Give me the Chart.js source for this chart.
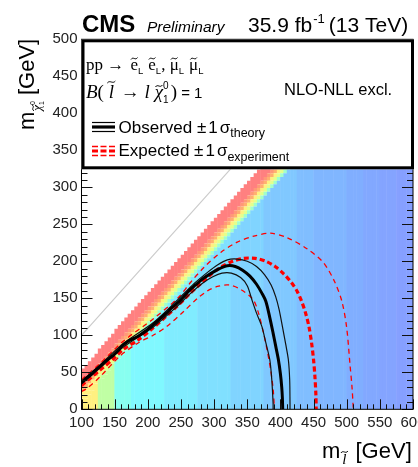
<!DOCTYPE html>
<html>
<head>
<meta charset="utf-8">
<title>CMS Preliminary - slepton exclusion</title>
<script src="https://cdn.jsdelivr.net/npm/chart.js@4/dist/chart.umd.min.js"></script>
<style>
html,body{margin:0;padding:0;background:#ffffff;overflow:hidden;}
#wrap{position:relative;width:418px;height:467px;}
canvas{display:block;}
</style>
</head>
<body>
<div id="wrap"><canvas id="chart" width="418" height="467"></canvas></div>
<script>
// ---------------- data ----------------
const xTickValues = [100,150,200,250,300,350,400,450,500,550,600];   // m(slepton) [GeV]
const yTickValues = [0,50,100,150,200,250,300,350,400,450,500];      // m(LSP) [GeV]

// colour map of the upper limit: 25 GeV bands in m(slepton), colour level of each band
const bandStart = [100,125,150,175,200,225,250,275,300,325,350,375,400,425,450,475,500,525,550,575];
const bandLevel = [4,6,8,9,9,10,10,11,11,12,12,13,13,14,15,15,16,17,18,19];
// gap (GeV) between the diagonal m(LSP)=m(slepton) and the top of the scanned region, per band
const bandEdgeGap = [50,48,46,46,46,46,46,46,46,46,46,46,46,46,46,46,46,46,46,46];
// strip just below the scan edge, from the edge inwards: thickness (GeV) and colour level
const edgeStripThickness = [20,5,5,5,5,5];
const edgeStripLevel     = [0,1,2,4,5,7];
const cellSize = 5; // GeV, map binning

const paletteColors = [
  '#ff8080','#ff9878','#ffb070','#ffd078','#fff080','#e4ff8c','#c0ffa4','#a0ffcc',
  '#88fff0','#80f8ff','#80ecff','#80e0ff','#80d4ff','#80c8ff','#80beff','#80b6ff',
  '#80aeff','#82a8ff','#84a4ff','#86a0ff'
];

// exclusion contours [m(slepton), m(LSP)]
const observed = [[100,36],[107,42],[113,46],[120,52],[128,58],[138,66],[148,73],[156,80],[163,87],[172,93],[186,99],[197,106],[208,114],[218,122],[228,130],[236,137],[244,143],[252,150],[262,160],[272,168],[284,177],[296,184],[308,190],[320,194],[332,193],[343,188],[354,180],[364,169],[372,157],[378,146],[384,124],[389,103],[393,85],[397,67],[400,48],[402,30],[403,15],[403.5,0]];
const observedUp = [[100,38],[128,60],[163,89],[208,117],[244,147],[270,170],[290,185],[305,195],[320,202],[335,203],[350,200],[364,193],[376,182],[386,168],[393,152],[398,135],[403,112],[408,88],[412,67],[414,40],[414.5,8],[414.5,0]];
const observedDown = [[100,34],[128,56],[163,84],[208,111],[244,139],[265,157],[282,170],[298,179],[312,184],[326,184],[340,178],[350,167],[357,148],[364,130],[372,112],[378,90],[384,67],[387,40],[389,8],[389,0]];
const expected = [[100,32],[113,42],[128,53],[148,68],[163,81],[186,94],[208,110],[228,126],[244,139],[262,155],[280,170],[296,183],[312,193],[328,200],[345,204],[362,204],[378,200],[392,193],[405,183],[416,172],[425,160],[432,146],[438,130],[443,112],[447,90],[450,67],[452,45],[453.5,20],[454,0]];
const expectedUp = [[100,40],[128,62],[163,92],[208,122],[245,150],[265,172],[285,192],[310,212],[335,226],[360,234],[385,238],[410,232],[440,217],[465,198],[482,172],[493,145],[500,110],[505,60],[508,30],[510,0]];
const expectedDown = [[100,24],[108,28],[128,44],[158,72],[186,90],[208,100],[230,113],[255,133],[275,150],[290,160],[305,166],[322,168],[340,162],[359,148],[367,130],[374,105],[380,80],[385,55],[389,28],[391,0]];
const diagonal = [[100,100],[500,500]];

// ---------------- build map cells (floating bars) ----------------
const mapCells = [], mapCellColors = [];
bandStart.forEach((b, bi) => {
  for (let c = b; c < b + 25; c += cellSize) {
    let top = Math.min(500, c + cellSize - bandEdgeGap[bi]);
    const xc = c + cellSize / 2;
    for (let k = 0; k < edgeStripThickness.length && top > 0; k++) {
      const lo = Math.max(0, top - edgeStripThickness[k]);
      mapCells.push({x: xc, y: [lo, top]});
      mapCellColors.push(paletteColors[Math.min(edgeStripLevel[k], bandLevel[bi])]);
      top = lo;
    }
    if (top > 0) {
      mapCells.push({x: xc, y: [0, top]});
      mapCellColors.push(paletteColors[bandLevel[bi]]);
    }
  }
});

const toXY = arr => arr.map(p => ({x: p[0], y: p[1]}));
function curve(pts, color, width, dash, order) {
  return {type: 'line', data: toXY(pts), borderColor: color, borderWidth: width,
          borderDash: dash, pointRadius: 0, fill: false, tension: 0.3, order: order};
}

// ---------------- drawing helpers ----------------
const SANS = '"Liberation Sans", Arial, sans-serif';
const SERIF = '"Liberation Serif", "Times New Roman", serif';

function drawTilde(ctx, cx, cy, w) {
  ctx.save();
  ctx.lineWidth = 1;
  ctx.beginPath();
  ctx.moveTo(cx - w / 2, cy + 1);
  ctx.bezierCurveTo(cx - w / 6, cy - 2.5, cx + w / 6, cy + 2.5, cx + w / 2, cy - 1);
  ctx.stroke();
  ctx.restore();
}
function drawRuns(ctx, x, y, runs) {
  for (const r of runs) {
    ctx.font = r.f;
    const w = ctx.measureText(r.t).width;
    const yy = y + (r.dy || 0);
    ctx.fillText(r.t, x, yy);
    if (r.tilde !== undefined) drawTilde(ctx, x + w / 2 + (r.tx || 0), yy + r.tilde, r.tw || w * 0.8);
    if (!r.noAdv) x += w;
    x += (r.sp || 0);
  }
  return x;
}

const minorStep = 10;
const chrome = {
  id: 'chrome',
  afterDatasetsDraw(chart) {
    const {ctx, chartArea: a, scales: {x, y}} = chart;
    ctx.save();
    // inward ticks
    ctx.strokeStyle = '#111';
    ctx.lineWidth = 1;
    ctx.beginPath();
    for (let v = xTickValues[0]; v <= xTickValues[xTickValues.length - 1]; v += minorStep) {
      const px = Math.round(x.getPixelForValue(v)) + 0.5;
      const L = (v % 50 === 0) ? 10 : 5;
      ctx.moveTo(px, a.bottom); ctx.lineTo(px, a.bottom - L);
    }
    for (let v = yTickValues[0]; v <= yTickValues[yTickValues.length - 1]; v += minorStep) {
      const py = Math.round(y.getPixelForValue(v)) + 0.5;
      const L = (v % 50 === 0) ? 11 : 6;
      ctx.moveTo(a.left, py); ctx.lineTo(a.left + L, py);
      ctx.moveTo(a.right, py); ctx.lineTo(a.right - L, py);
    }
    ctx.stroke();
    ctx.strokeStyle = '#000';
    ctx.strokeRect(a.left, a.top, a.right - a.left, a.bottom - a.top);

    // legend box
    const bx = a.left, by = a.top, bw = a.right - a.left + 1, bh = 130;
    ctx.fillStyle = '#fff';
    ctx.fillRect(bx, by, bw, bh);
    ctx.lineWidth = 3;
    ctx.strokeStyle = '#000';
    ctx.strokeRect(bx + 1.5, by + 1.5, bw - 3, bh - 3);

    ctx.fillStyle = '#000';
    ctx.strokeStyle = '#000';
    ctx.textBaseline = 'alphabetic';
    ctx.textAlign = 'left';
    const f16 = '17px ' + SERIF;
    const sub = '9.5px ' + SANS;
    drawRuns(ctx, 86, 70, [
      {t: 'pp ', f: f16},
      {t: '\u2192 ', f: f16, sp: 2},
      {t: 'e', f: f16, tilde: -11.5, tw: 6.5},
      {t: 'L', f: sub, dy: 4, sp: 5},
      {t: 'e', f: f16, tilde: -11.5, tw: 6.5},
      {t: 'L', f: sub, dy: 4},
      {t: ', ', f: f16},
      {t: '\u03bc', f: f16, tilde: -11.5, tw: 6.5},
      {t: 'L', f: sub, dy: 4, sp: 5},
      {t: '\u03bc', f: f16, tilde: -11.5, tw: 6.5},
      {t: 'L', f: sub, dy: 4}
    ]);
    const f19 = '19px ' + SERIF, i19 = 'italic 19px ' + SERIF;
    drawRuns(ctx, 86, 98, [
      {t: 'B', f: i19},
      {t: '( ', f: f19},
      {t: 'l', f: i19, tilde: -16, tw: 8, sp: 2},
      {t: ' \u2192 ', f: f19},
      {t: 'l', f: i19, sp: 5},
      {t: '\u03c7', f: i19, tilde: -12, tw: 7},
      {t: '0', f: '10px ' + SANS, dy: -9, noAdv: true},
      {t: '1', f: '10px ' + SANS, dy: 5, sp: 2},
      {t: ')', f: f19},
      {t: ' = 1', f: '15px ' + SANS}
    ]);
    ctx.font = '16.5px ' + SANS;
    ctx.fillText('NLO-NLL excl.', 284, 95);

    // legend samples
    const lx0 = 92, lx1 = 115;
    ctx.setLineDash([]);
    ctx.strokeStyle = '#000';
    ctx.lineWidth = 1.2;
    ctx.beginPath(); ctx.moveTo(lx0, 122.5); ctx.lineTo(lx1, 122.5); ctx.stroke();
    ctx.beginPath(); ctx.moveTo(lx0, 131.5); ctx.lineTo(lx1, 131.5); ctx.stroke();
    ctx.lineWidth = 3.2;
    ctx.beginPath(); ctx.moveTo(lx0, 127); ctx.lineTo(lx1, 127); ctx.stroke();
    ctx.strokeStyle = '#ff0000';
    ctx.lineWidth = 1.3;
    ctx.setLineDash([6, 2.5]);
    ctx.beginPath(); ctx.moveTo(lx0, 146.5); ctx.lineTo(lx1, 146.5); ctx.stroke();
    ctx.beginPath(); ctx.moveTo(lx0, 155.5); ctx.lineTo(lx1, 155.5); ctx.stroke();
    ctx.lineWidth = 3.2;
    ctx.beginPath(); ctx.moveTo(lx0, 151); ctx.lineTo(lx1, 151); ctx.stroke();
    ctx.setLineDash([]);

    ctx.fillStyle = '#000';
    const f17 = '17px ' + SANS;
    drawRuns(ctx, 118.5, 133, [
      {t: 'Observed ', f: f17},
      {t: '\u00b1', f: f17, sp: 2},
      {t: '1', f: f17, sp: 2},
      {t: '\u03c3', f: f17},
      {t: 'theory', f: '12.5px ' + SANS, dy: 4}
    ]);
    drawRuns(ctx, 118.5, 156, [
      {t: 'Expected ', f: f17},
      {t: '\u00b1', f: f17, sp: 2},
      {t: '1', f: f17, sp: 2},
      {t: '\u03c3', f: f17},
      {t: 'experiment', f: '12.5px ' + SANS, dy: 5}
    ]);
    ctx.restore();
  },
  afterDraw(chart) {
    const {ctx} = chart;
    ctx.save();
    ctx.fillStyle = '#000';
    ctx.strokeStyle = '#000';
    ctx.textAlign = 'left';
    ctx.textBaseline = 'alphabetic';
    // header
    drawRuns(ctx, 82, 32, [{t: 'CMS', f: 'bold 24px ' + SANS}]);
    drawRuns(ctx, 147, 31.5, [{t: 'Preliminary', f: 'italic 15.5px ' + SANS}]);
    drawRuns(ctx, 248, 32, [
      {t: '35.9 fb', f: '21px ' + SANS, sp: 1},
      {t: '-1', f: '13px ' + SANS, dy: -9, sp: 4},
      {t: '(13 TeV)', f: '21px ' + SANS}
    ]);
    // x title
    drawRuns(ctx, 322, 458, [
      {t: 'm', f: '22px ' + SANS, sp: 2},
      {t: 'l', f: 'italic 15px ' + SERIF, dy: 6, tilde: -12, tw: 7, sp: 9},
      {t: '[GeV]', f: '22px ' + SANS}
    ]);
    // y title (rotated)
    ctx.translate(34, 130);
    ctx.rotate(-Math.PI / 2);
    drawRuns(ctx, 0, 0, [
      {t: 'm', f: '22px ' + SANS, sp: 1},
      {t: '\u03c7', f: 'italic 13px ' + SERIF, dy: 7, tilde: -8, tw: 6},
      {t: '0', f: '7px ' + SANS, dy: 1, noAdv: true},
      {t: '1', f: '7px ' + SANS, dy: 10, sp: 6},
      {t: '[GeV]', f: '22px ' + SANS}
    ]);
    ctx.restore();
  }
};

Chart.defaults.font.family = SANS;
new Chart(document.getElementById('chart'), {
  type: 'bar',
  data: {
    datasets: [
      curve(observed, '#000000', 3, [], 1),
      curve(observedUp, '#111111', 1.2, [], 2),
      curve(observedDown, '#111111', 1.2, [], 2),
      curve(expected, '#ff0000', 3.2, [5, 3], 3),
      curve(expectedUp, '#ff0000', 1.3, [5, 4], 3),
      curve(expectedDown, '#ff0000', 1.3, [5, 4], 3),
      curve(diagonal, '#cccccc', 1.2, [], 8),
      {type: 'bar', data: mapCells, backgroundColor: mapCellColors, borderWidth: 0,
       barPercentage: 1.15, categoryPercentage: 1, order: 20}
    ]
  },
  options: {
    responsive: false,
    animation: false,
    events: [],
    layout: {padding: {top: 39.3, right: 5, bottom: 0, left: 0}},
    plugins: {legend: {display: false}, tooltip: {enabled: false}, title: {display: false}},
    scales: {
      x: {
        type: 'linear', min: 100, max: 600, offset: false,
        grid: {display: false, offset: false, drawTicks: false},
        border: {display: false},
        ticks: {stepSize: 50, autoSkip: false, maxRotation: 0, padding: 5,
                color: '#222', font: {size: 15, family: SANS}},
        afterFit: s => { s.height = 57.7; s.paddingLeft = 0; s.paddingRight = 0; }
      },
      y: {
        type: 'linear', min: 0, max: 500,
        grid: {display: false, drawTicks: false},
        border: {display: false},
        ticks: {stepSize: 50, autoSkip: false, padding: 4,
                color: '#222', font: {size: 15, family: SANS}},
        afterFit: s => { s.width = 81.5; s.paddingTop = 0; s.paddingBottom = 0; }
      }
    }
  },
  plugins: [chrome]
});
</script>
</body>
</html>
